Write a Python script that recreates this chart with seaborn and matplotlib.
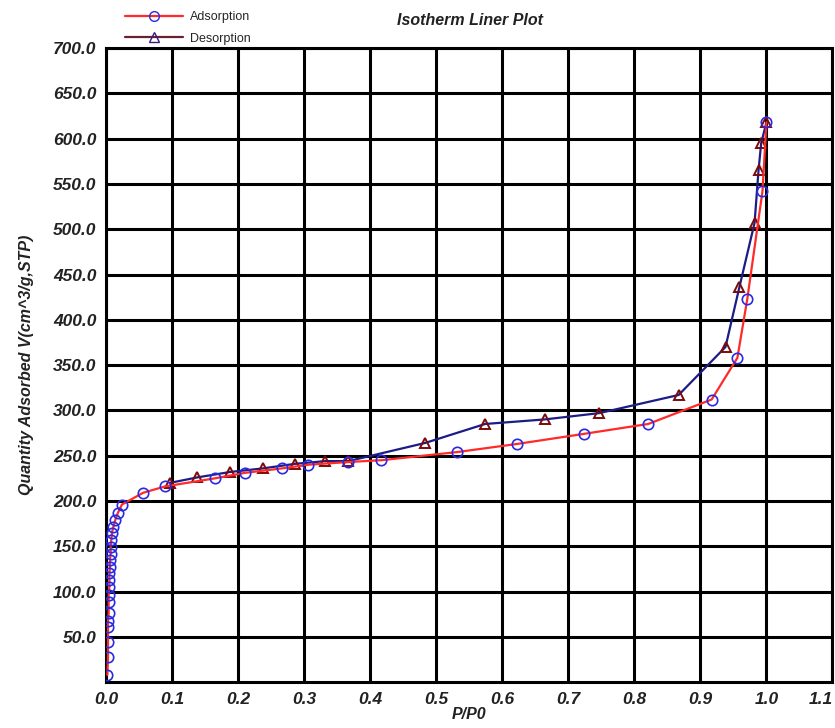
import matplotlib
matplotlib.use("Agg")
import matplotlib.pyplot as plt
from matplotlib.lines import Line2D
import seaborn as sns
import pandas as pd

# ---- data ----
ads_x = [0.002, 0.003, 0.003, 0.003, 0.003, 0.004, 0.004, 0.004, 0.005, 0.005,
         0.005, 0.006, 0.006, 0.007, 0.007, 0.008, 0.009, 0.011, 0.014, 0.018,
         0.024, 0.056, 0.089, 0.165, 0.21, 0.267, 0.306, 0.367, 0.417, 0.532,
         0.623, 0.723, 0.821, 0.917, 0.956, 0.971, 0.994, 1.0]
ads_y = [8, 28, 44, 61, 68, 76, 88, 96, 105, 113,
         120, 127, 135, 142, 149, 157, 165, 171, 179, 187,
         196, 209, 216, 225, 231, 236, 240, 243, 245, 254,
         263, 274, 285, 312, 358, 423, 542, 618]

des_x = [1.0, 0.992, 0.988, 0.982, 0.959, 0.938, 0.867, 0.747, 0.664, 0.574,
         0.483, 0.367, 0.332, 0.286, 0.238, 0.188, 0.138, 0.097]
des_y = [618, 595, 565, 507, 436, 370, 317, 297, 290, 285,
         264, 244, 244, 241, 236, 232, 226, 220]

x_ticks = [0.0, 0.1, 0.2, 0.3, 0.4, 0.5, 0.6, 0.7, 0.8, 0.9, 1.0, 1.1]
y_ticks = [50, 100, 150, 200, 250, 300, 350, 400, 450, 500, 550, 600, 650, 700]

title = "Isotherm Liner Plot"
x_label = "P/P0"
y_label = "Quantity Adsorbed V(cm^3/g,STP)"
series_names = ["Adsorption", "Desorption"]

# ---- styling ----
sns.set_theme(style="white")
plt.rcParams['font.family'] = ['Liberation Sans Narrow', 'Liberation Sans', 'DejaVu Sans']

ads_df = pd.DataFrame({"x": ads_x, "y": ads_y})
des_df = pd.DataFrame({"x": des_x, "y": des_y})

fig = plt.figure(figsize=(8.35, 7.28), dpi=100)
ax = fig.add_axes([0.127, 0.063, 0.870, 0.871])

sns.lineplot(data=des_df, x="x", y="y", sort=False, estimator=None, ax=ax,
             color="#1c1c86", linewidth=1.6, marker="^", markersize=7.5,
             markerfacecolor="none", markeredgecolor="#7a0a0a",
             markeredgewidth=1.4, zorder=4)
sns.lineplot(data=ads_df, x="x", y="y", sort=False, estimator=None, ax=ax,
             color="#ff2a2a", linewidth=1.6, marker="o", markersize=7.5,
             markerfacecolor="none", markeredgecolor="#2a2ae0",
             markeredgewidth=1.2, zorder=5)

ax.set_xlim(0, 1.1)
ax.set_ylim(0, 700)
ax.set_xticks(x_ticks)
ax.set_yticks(y_ticks)
ax.set_xticklabels([f"{v:.1f}" for v in x_ticks])
ax.set_yticklabels([f"{v:.1f}" for v in y_ticks])
ax.grid(True, color="black", linewidth=2.2)
ax.set_axisbelow(True)
for s in ax.spines.values():
    s.set_color("black")
    s.set_linewidth(2.2)
ax.tick_params(axis="both", length=0, pad=7)
for lab in ax.get_xticklabels() + ax.get_yticklabels():
    lab.set_fontsize(12.5)
    lab.set_fontweight("bold")
    lab.set_fontstyle("italic")
    lab.set_color("#222222")
xl = ax.get_xticklabels()
xl[-1].set_horizontalalignment("right")
xl[-1].set_x(1.1)

ax.set_xlabel(x_label, fontsize=11.5, fontweight="bold", fontstyle="italic",
              labelpad=0, color="#222222")
ax.set_ylabel(y_label, fontsize=11.5, fontweight="bold", fontstyle="italic",
              labelpad=14, color="#222222")

fig.text(0.563, 0.972, title, ha="center", va="center", fontsize=11.5,
         fontweight="bold", fontstyle="italic", color="#222222")

handles = [
    Line2D([0], [0], color="#ff2a2a", linewidth=1.6, marker="o", markersize=7,
           markerfacecolor="none", markeredgecolor="#2a2ae0"),
    Line2D([0], [0], color="#6a2030", linewidth=1.6, marker="^", markersize=7,
           markerfacecolor="none", markeredgecolor="#3a1a80"),
]
fig.legend(handles, series_names, loc="upper left",
           bbox_to_anchor=(0.138, 0.998), frameon=False, fontsize=9,
           handlelength=4.6, labelspacing=0.75, borderpad=0.3,
           handletextpad=0.6)

fig.savefig("out.png", dpi=100)
